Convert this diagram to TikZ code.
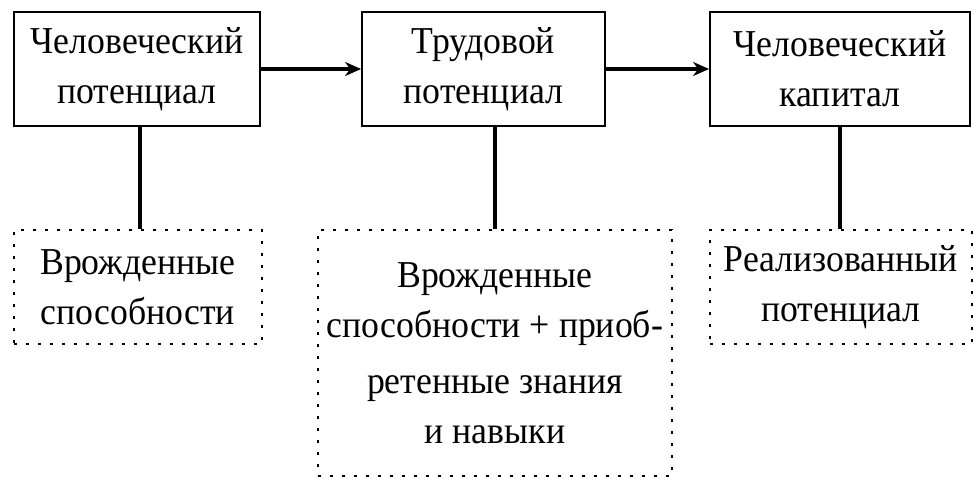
\documentclass[tikz,border=0pt]{standalone}
\usepackage{fontspec}
\setmainfont{Liberation Serif}[FakeStretch=0.94]
\usetikzlibrary{arrows.meta}
\begin{document}
\begin{tikzpicture}[x=1pt,y=-1pt,
  solidbox/.style={draw,line width=1.8pt,rectangle,align=center,inner sep=0pt,
    font=\fontsize{38}{50}\selectfont},
  dotbox/.style={draw,line width=2.6pt,dash pattern=on 2.6pt off 9.4pt,rectangle,align=center,inner sep=0pt,
    font=\fontsize{38}{50}\selectfont},
  link/.style={line width=3.6pt},
  arr/.style={line width=3.6pt,-{Stealth[length=16pt,width=14pt,inset=5pt]}}]
\useasboundingbox (0,0) rectangle (980,487);
\node[solidbox,minimum width=246pt,minimum height=114pt] (b1) at (137,69) {Человеческий\\потенциал};
\node[solidbox,minimum width=243pt,minimum height=114pt] (b2) at (483.5,69) {Трудовой\\потенциал};
\node[solidbox,minimum width=260pt,minimum height=114pt] (b3) at (840,69) {Человеческий\\капитал};
\node[dotbox,minimum width=248pt,minimum height=114pt] (d1) at (138,287) {Врожденные\\способности};
\node[dotbox,minimum width=354pt,minimum height=246pt] (d2) at (495,353) {Врожденные\\способности + приоб-\\[6pt]ретенные знания\\и навыки};
\node[dotbox,minimum width=262pt,minimum height=114pt] (d3) at (841,287) {Реализованный\\потенциал};
\draw[arr] (b1.east) -- (b2.west);
\draw[arr] (b2.east) -- (b3.west);
\draw[link] (b1.south) ++(3,0) coordinate (c1) -- (c1 |- d1.north);
\draw[link] (d2.north |- b2.south) -- (d2.north);
\draw[link] (b3.south) -- (b3.south |- d3.north);
\end{tikzpicture}
\end{document}
